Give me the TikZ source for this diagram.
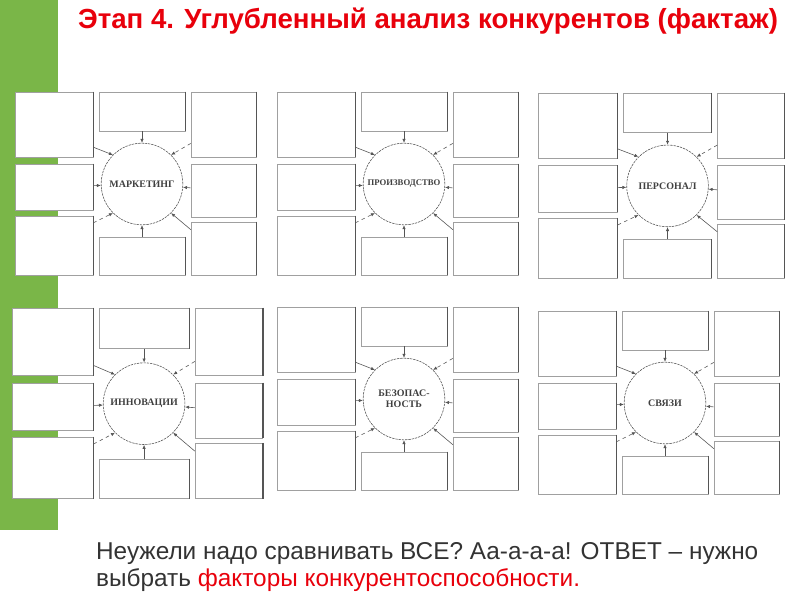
\documentclass[tikz,border=0pt]{standalone}
\usepackage{fontspec}
\setmainfont{Liberation Sans}
\newfontfamily\labelfont{Liberation Serif}
\usetikzlibrary{arrows.meta,positioning,fit}
\definecolor{SideGreen}{HTML}{7AB648}
\definecolor{TitleRed}{HTML}{E8000B}
\definecolor{TextGray}{HTML}{333333}
\definecolor{Frame}{HTML}{A0A0A0}
\definecolor{Rim}{HTML}{555555}

% one panel: name, x, y, x-stretch, y-stretch, label
\newcommand{\factorpanel}[6]{%
\begin{scope}[shift={(#2,#3)}]
\node[box,fit={(0,0) ({#4*78},{#5*65})}] (#1tl) {};
\node[box,fit={({#4*84},0) ({#4*170},{#5*39})}] (#1tm) {};
\node[box,fit={({#4*176},0) ({#4*241},{#5*65})}] (#1tr) {};
\node[box,fit={(0,{#5*72}) ({#4*78},{#5*118})}] (#1ml) {};
\node[box,fit={({#4*176},{#5*72}) ({#4*241},{#5*125})}] (#1mr) {};
\node[box,fit={(0,{#5*124}) ({#4*78},{#5*183})}] (#1bl) {};
\node[box,fit={({#4*84},{#5*145}) ({#4*170},{#5*183})}] (#1bm) {};
\node[box,fit={({#4*176},{#5*130}) ({#4*241},{#5*183})}] (#1br) {};
\node[hub] (#1hub) at ({#4*127},{#5*92}) {#6};
\foreach \b in {tl,tm,tr,ml,mr,bl,bm,br}
  \draw[rim] (#1\b.north east) -- (#1\b.south east);
\draw[link] (#1tm) -- (#1hub);
\draw[link] (#1bm) -- (#1hub);
\draw[link] (#1ml) -- (#1hub);
\draw[link] (#1mr) -- (#1hub);
\draw[link] (#1tl.-30) -- (#1hub.135);
\draw[link,dashed] (#1tr.-150) -- (#1hub.45);
\draw[link,dashed] (#1bl.30) -- (#1hub.225);
\draw[link] (#1br.150) -- (#1hub.-45);
\end{scope}}

\begin{document}
\begin{tikzpicture}[x=0.03cm,y=-0.03cm,
    box/.style={rectangle,draw=Frame,line width=0.5pt,fill=white,inner sep=0pt},
    rim/.style={draw=Rim,line width=1pt},
    hub/.style={circle,minimum size=2.45cm,inner sep=0pt,fill=white,draw=Rim,line width=0.5pt,dash pattern=on 2pt off 0.8pt,align=center,text=black!75,font=\labelfont\bfseries\fontsize{8.5}{9.5}\selectfont},
    link/.style={draw=Rim,line width=0.5pt,-{Latex[length=1.2mm,width=1mm]}},
    heading/.style={anchor=base west,text=TitleRed,font=\bfseries\fontsize{23.6}{27}\selectfont},
    remark/.style={anchor=base west,align=left,text=TextGray,font=\fontsize{20.8}{23.5}\selectfont}
]
\useasboundingbox (0,0) rectangle (800,600);
\fill[SideGreen] (0,0) rectangle (58,530);
\node[heading] (title) at (74,29) {Этап 4. Углубленный анализ конкурентов (фактаж)};

\factorpanel{pa}{15}{92}{1}{1}{МАРКЕТИНГ}
\factorpanel{pb}{277}{92}{1}{1}{\fontsize{7.4}{8}\selectfont ПРОИЗВОДСТВО}
\factorpanel{pc}{538}{93}{1.02}{1.01}{ПЕРСОНАЛ}
\factorpanel{pd}{12}{308}{1.04}{1.04}{ИННОВАЦИИ}
\factorpanel{pe}{277}{307}{1}{1}{БЕЗОПАС-\\НОСТЬ}
\factorpanel{pf}{538}{311}{1}{1}{СВЯЗИ}

\node[remark] (answer) at (92,587) {Неужели надо сравнивать ВСЕ? Аа-а-а-а! ОТВЕТ -- нужно\\выбрать \textcolor{TitleRed}{факторы конкурентоспособности.}};
\end{tikzpicture}
\end{document}
